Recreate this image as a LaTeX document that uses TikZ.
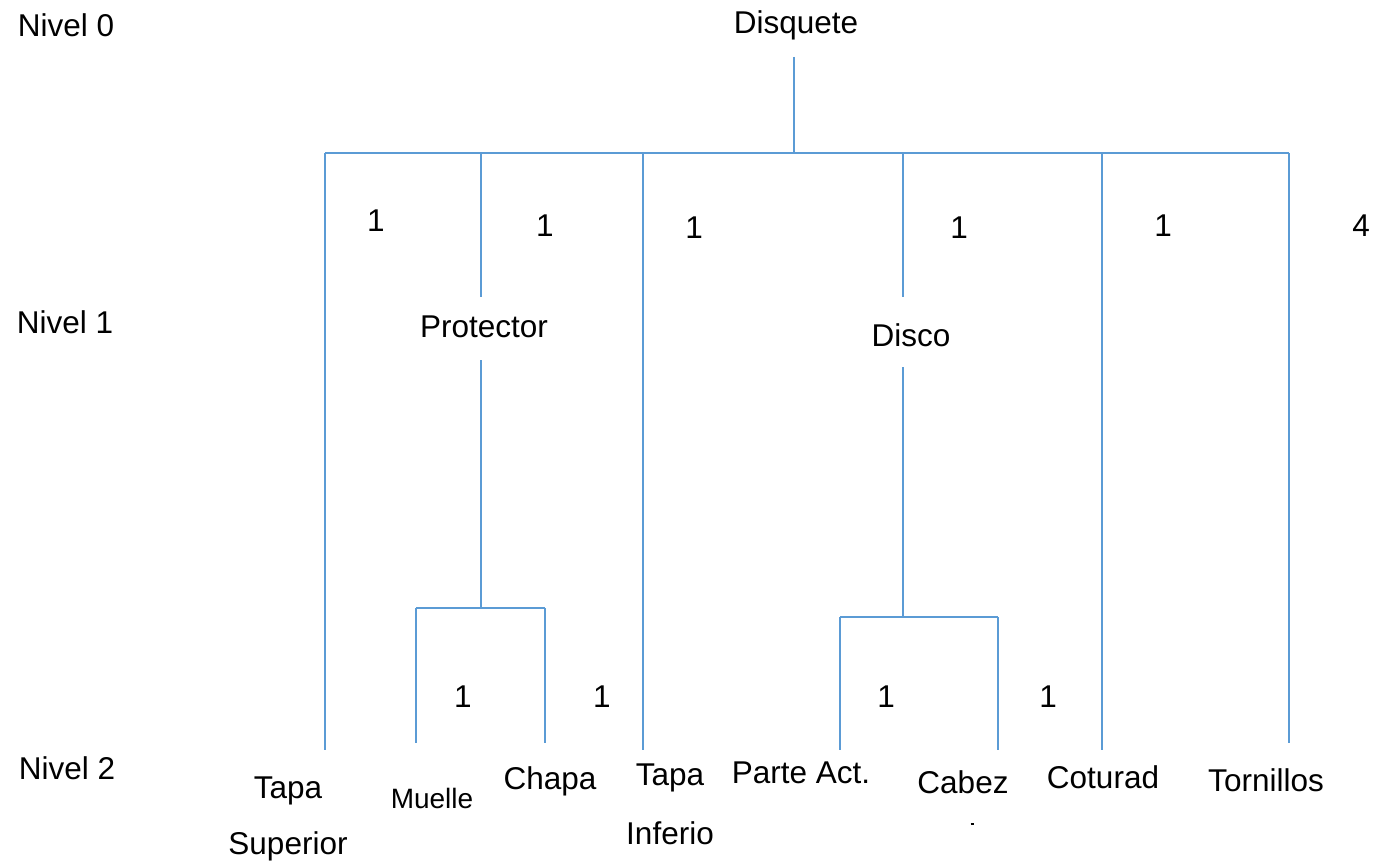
\documentclass[tikz,border=0pt]{standalone}
\usepackage{fontspec}
\setmainfont{Liberation Sans}
\begin{document}
\begin{tikzpicture}[x=1pt,y=-1pt,
  lbl/.style={inner sep=0pt,anchor=center,font=\fontsize{31.5}{37}\selectfont},
  small/.style={inner sep=0pt,anchor=center,font=\fontsize{28}{33}\selectfont},
  link/.style={draw=linkblue,line width=2pt}]
\definecolor{linkblue}{HTML}{5B9BD5}
\useasboundingbox (0,0) rectangle (1383,866);

% level captions
\node[lbl] (n0) at (66,25) {Nivel 0};
\node[lbl] (n1) at (65,322) {Nivel 1};
\node[lbl] (n2) at (67,768) {Nivel 2};

% root and sub-assemblies
\node[lbl] (disq) at (796,25) {Disquete};
\node[lbl] (prot) at (484,327) {Protector};
\node[lbl] (disco) at (911,335) {Disco};

% leaf parts
\node[lbl] (tsup1) at (288,791) {Tapa};
\node[lbl] (tsup2) at (288,846) {Superior};
\node[small] (muelle) at (432,798) {Muelle};
\node[lbl] (chapa) at (550,781) {Chapa};
\node[lbl] (tinf1) at (670,778) {Tapa};
\node[lbl] (tinf2) at (670,833) {Inferio};
\node[lbl] (parte) at (801,773) {Parte Act.};
\node[lbl] (cabez) at (963,782) {Cabez};
\node[lbl] (coturad) at (1103,777) {Coturad};
\node[lbl] (torn) at (1266,780) {Tornillos};
\node[inner sep=0pt] (dot) at (972,824) {\rule{3pt}{1.2pt}};

% quantities
\node[lbl] (q1) at (376,221) {1};
\node[lbl] (q2) at (545,226) {1};
\node[lbl] (q3) at (694,228) {1};
\node[lbl] (q4) at (959,228) {1};
\node[lbl] (q5) at (1163,226) {1};
\node[lbl] (q6) at (1361,226) {4};
\node[lbl] (q7) at (463,697) {1};
\node[lbl] (q8) at (602,697) {1};
\node[lbl] (q9) at (886,697) {1};
\node[lbl] (q10) at (1048,697) {1};

% junction points
\coordinate (rootTop) at (794,57);
\coordinate (bus) at (794,153);
\coordinate (busL) at (325,153);
\coordinate (busR) at (1289,153);
\coordinate (bProt) at (481,153);
\coordinate (bTinf) at (643,153);
\coordinate (bDisco) at (903,153);
\coordinate (bCot) at (1102,153);
\coordinate (eTsup) at (325,750);
\coordinate (eProt) at (481,297);
\coordinate (eTinf) at (643,750);
\coordinate (eDisco) at (903,297);
\coordinate (eCot) at (1102,750);
\coordinate (eTorn) at (1289,743);

\coordinate (protTop) at (481,360);
\coordinate (protBus) at (481,608);
\coordinate (protL) at (416,608);
\coordinate (protR) at (545,608);
\coordinate (eMuelle) at (416,743);
\coordinate (eChapa) at (545,743);

\coordinate (discoTop) at (903,367);
\coordinate (discoBus) at (903,617);
\coordinate (discoL) at (840,617);
\coordinate (discoR) at (998,617);
\coordinate (eParte) at (840,750);
\coordinate (eCabez) at (998,750);

% level 0 -> level 1
\draw[link] (rootTop) -- (bus);
\draw[link] (busL) -- (busR);
\draw[link] (busL) -- (eTsup);
\draw[link] (bProt) -- (eProt);
\draw[link] (bTinf) -- (eTinf);
\draw[link] (bDisco) -- (eDisco);
\draw[link] (bCot) -- (eCot);
\draw[link] (busR) -- (eTorn);

% Protector -> parts
\draw[link] (protTop) -- (protBus);
\draw[link] (protL) -- (protR);
\draw[link] (protL) -- (eMuelle);
\draw[link] (protR) -- (eChapa);

% Disco -> parts
\draw[link] (discoTop) -- (discoBus);
\draw[link] (discoL) -- (discoR);
\draw[link] (discoL) -- (eParte);
\draw[link] (discoR) -- (eCabez);
\end{tikzpicture}
\end{document}
